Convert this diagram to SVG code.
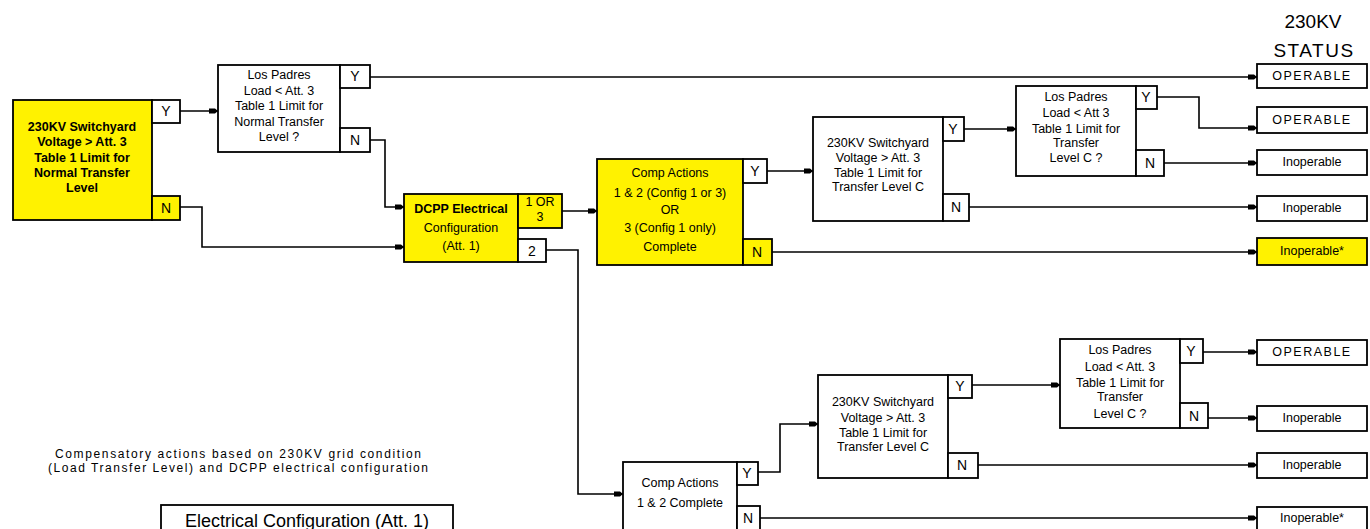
<svg xmlns="http://www.w3.org/2000/svg" width="1370" height="529" viewBox="0 0 1370 529">
<style>
.box{fill:#fff;stroke:#000;stroke-width:1.8}
.yb{fill:#FFF200;stroke:#000;stroke-width:1.8}
.t{font-family:"Liberation Sans",Arial,sans-serif;font-size:12.5px;fill:#000;text-anchor:middle;dominant-baseline:central}
.tb{font-weight:bold}
.lab{font-family:"Liberation Sans",Arial,sans-serif;font-size:14px;fill:#000;text-anchor:middle;dominant-baseline:central}
.st{font-family:"Liberation Sans",Arial,sans-serif;font-size:12.5px;fill:#000;text-anchor:middle;dominant-baseline:central}
.c{fill:none;stroke:#000;stroke-width:1.6;marker-end:url(#ah)}
</style>
<defs>
<marker id="ah" markerUnits="userSpaceOnUse" markerWidth="12" markerHeight="8" refX="9" refY="4" orient="auto">
<path d="M0,1.5 L6,1.5 L9,4 L6,6.5 L0,6.5 Z" fill="#000"/>
</marker>
</defs>

<g id="connectors">
<path class="c" d="M180,111 H218"/>
<path class="c" d="M370,77 H1257"/>
<path class="c" d="M370,140 H385 V207 H404"/>
<path class="c" d="M180,207 H202 V247 H404"/>
<path class="c" d="M562,211 H597"/>
<path class="c" d="M546,250 H578 V494 H623"/>
<path class="c" d="M767,171 H813"/>
<path class="c" d="M772,252 H1257"/>
<path class="c" d="M964,129 H1016"/>
<path class="c" d="M969,207 H1257"/>
<path class="c" d="M1157,97 H1199 V128 H1257"/>
<path class="c" d="M1164,163 H1257"/>
<path class="c" d="M758,472 H780 V424 H818"/>
<path class="c" d="M760,518 H1257"/>
<path class="c" d="M972,385 H1060"/>
<path class="c" d="M978,465 H1257"/>
<path class="c" d="M1203,352 H1257"/>
<path class="c" d="M1208,418 H1257"/>
</g>

<g id="node-switchyard-normal">
<rect class="yb" x="13" y="100" width="139" height="120"/>
<rect class="box" x="152" y="100" width="28" height="23"/>
<rect class="yb" x="152" y="196" width="28" height="24"/>
<text class="lab" x="166" y="111">Y</text>
<text class="lab" x="166" y="208">N</text>
<text class="t tb" x="82" y="127">230KV Switchyard</text>
<text class="t tb" x="82" y="142">Voltage &gt; Att. 3</text>
<text class="t tb" x="82" y="158">Table 1 Limit for</text>
<text class="t tb" x="82" y="173">Normal Transfer</text>
<text class="t tb" x="82" y="188">Level</text>
</g>

<g id="node-lospadres-normal">
<rect class="box" x="218" y="65" width="122" height="87"/>
<rect class="box" x="340" y="65" width="30" height="23"/>
<rect class="box" x="340" y="128" width="30" height="24"/>
<text class="lab" x="355" y="76">Y</text>
<text class="lab" x="355" y="140">N</text>
<text class="t" x="279" y="75">Los Padres</text>
<text class="t" x="279" y="91">Load &lt; Att. 3</text>
<text class="t" x="279" y="106">Table 1 Limit for</text>
<text class="t" x="279" y="122">Normal Transfer</text>
<text class="t" x="279" y="137">Level ?</text>
</g>

<g id="node-dcpp-config">
<rect class="yb" x="404" y="194" width="114" height="68"/>
<rect class="yb" x="518" y="194" width="44" height="34"/>
<rect class="box" x="518" y="239" width="28" height="23"/>
<text class="t" x="540" y="202">1 OR</text>
<text class="t" x="540" y="217">3</text>
<text class="lab" x="532" y="251">2</text>
<text class="t tb" x="461" y="209">DCPP Electrical</text>
<text class="t" x="461" y="228">Configuration</text>
<text class="t" x="461" y="246">(Att. 1)</text>
</g>

<g id="node-comp-actions-13">
<rect class="yb" x="597" y="159" width="146" height="106"/>
<rect class="box" x="743" y="159" width="24" height="24"/>
<rect class="yb" x="743" y="239" width="29" height="26"/>
<text class="lab" x="755" y="171">Y</text>
<text class="lab" x="757" y="252">N</text>
<text class="t" x="670" y="173">Comp Actions</text>
<text class="t" x="670" y="193">1 &amp; 2 (Config 1 or 3)</text>
<text class="t" x="670" y="210">OR</text>
<text class="t" x="670" y="228">3 (Config 1 only)</text>
<text class="t" x="670" y="247">Complete</text>
</g>

<g id="node-switchyard-c1">
<rect class="box" x="813" y="117" width="130" height="104"/>
<rect class="box" x="943" y="117" width="21" height="24"/>
<rect class="box" x="943" y="194" width="26" height="27"/>
<text class="lab" x="953" y="129">Y</text>
<text class="lab" x="956" y="207">N</text>
<text class="t" x="878" y="143">230KV Switchyard</text>
<text class="t" x="878" y="158">Voltage &gt; Att. 3</text>
<text class="t" x="878" y="173">Table 1 Limit for</text>
<text class="t" x="878" y="187">Transfer Level C</text>
</g>

<g id="node-lospadres-c1">
<rect class="box" x="1016" y="86" width="120" height="90"/>
<rect class="box" x="1136" y="86" width="21" height="23"/>
<rect class="box" x="1136" y="150" width="28" height="26"/>
<text class="lab" x="1146" y="97">Y</text>
<text class="lab" x="1150" y="163">N</text>
<text class="t" x="1076" y="97">Los Padres</text>
<text class="t" x="1076" y="113">Load &lt; Att 3</text>
<text class="t" x="1076" y="129">Table 1 Limit for</text>
<text class="t" x="1076" y="143">Transfer</text>
<text class="t" x="1076" y="158">Level C ?</text>
</g>

<g id="node-comp-actions-12">
<rect class="box" x="623" y="462" width="114" height="72"/>
<rect class="box" x="737" y="462" width="21" height="23"/>
<rect class="box" x="737" y="506" width="23" height="28"/>
<text class="lab" x="747" y="473">Y</text>
<text class="lab" x="748" y="518">N</text>
<text class="t" x="680" y="483">Comp Actions</text>
<text class="t" x="680" y="503">1 &amp; 2 Complete</text>
</g>

<g id="node-switchyard-c2">
<rect class="box" x="818" y="375" width="130" height="103"/>
<rect class="box" x="948" y="375" width="24" height="23"/>
<rect class="box" x="948" y="453" width="30" height="25"/>
<text class="lab" x="960" y="386">Y</text>
<text class="lab" x="962" y="465">N</text>
<text class="t" x="883" y="402">230KV Switchyard</text>
<text class="t" x="883" y="418">Voltage &gt; Att. 3</text>
<text class="t" x="883" y="433">Table 1 Limit for</text>
<text class="t" x="883" y="447">Transfer Level C</text>
</g>

<g id="node-lospadres-c2">
<rect class="box" x="1060" y="339" width="120" height="89"/>
<rect class="box" x="1180" y="339" width="23" height="24"/>
<rect class="box" x="1180" y="403" width="28" height="25"/>
<text class="lab" x="1191" y="351">Y</text>
<text class="lab" x="1194" y="416">N</text>
<text class="t" x="1120" y="350">Los Padres</text>
<text class="t" x="1120" y="367">Load &lt; Att. 3</text>
<text class="t" x="1120" y="383">Table 1 Limit for</text>
<text class="t" x="1120" y="397">Transfer</text>
<text class="t" x="1120" y="414">Level C ?</text>
</g>

<g id="status-header">
<text x="1313" y="28" font-family="Liberation Sans, Arial, sans-serif" font-size="19" text-anchor="middle">230KV</text>
<text x="1314" y="57" font-family="Liberation Sans, Arial, sans-serif" font-size="19" letter-spacing="1.5" text-anchor="middle">STATUS</text>
</g>

<g id="status-1"><rect class="box" x="1257" y="64" width="110" height="24"/><text class="st" x="1312" y="76" letter-spacing="1.5">OPERABLE</text></g>
<g id="status-2"><rect class="box" x="1257" y="107" width="110" height="26"/><text class="st" x="1312" y="120" letter-spacing="1.5">OPERABLE</text></g>
<g id="status-3"><rect class="box" x="1257" y="150" width="110" height="25"/><text class="st" x="1312" y="162">Inoperable</text></g>
<g id="status-4"><rect class="box" x="1257" y="196" width="110" height="25"/><text class="st" x="1312" y="208">Inoperable</text></g>
<g id="status-5"><rect class="yb" x="1257" y="238" width="110" height="27"/><text class="st" x="1312" y="251">Inoperable*</text></g>
<g id="status-6"><rect class="box" x="1257" y="340" width="110" height="25"/><text class="st" x="1312" y="352" letter-spacing="1.5">OPERABLE</text></g>
<g id="status-7"><rect class="box" x="1257" y="406" width="110" height="25"/><text class="st" x="1312" y="418">Inoperable</text></g>
<g id="status-8"><rect class="box" x="1257" y="453" width="110" height="25"/><text class="st" x="1312" y="465">Inoperable</text></g>
<g id="status-9"><rect class="box" x="1257" y="507" width="110" height="28"/><text class="st" x="1312" y="518">Inoperable*</text></g>

<g id="caption">
<text x="238" y="458" font-family="Liberation Sans, Arial, sans-serif" font-size="12" text-anchor="middle" textLength="366" lengthAdjust="spacing">Compensatory actions based on 230KV grid condition</text>
<text x="238" y="472" font-family="Liberation Sans, Arial, sans-serif" font-size="12" text-anchor="middle" textLength="380" lengthAdjust="spacing">(Load Transfer Level) and DCPP electrical configuration</text>
</g>

<g id="legend">
<rect class="box" x="161" y="505" width="292" height="30"/>
<text x="307" y="527" font-family="Liberation Sans, Arial, sans-serif" font-size="18" text-anchor="middle">Electrical Configuration (Att. 1)</text>
</g>
</svg>
